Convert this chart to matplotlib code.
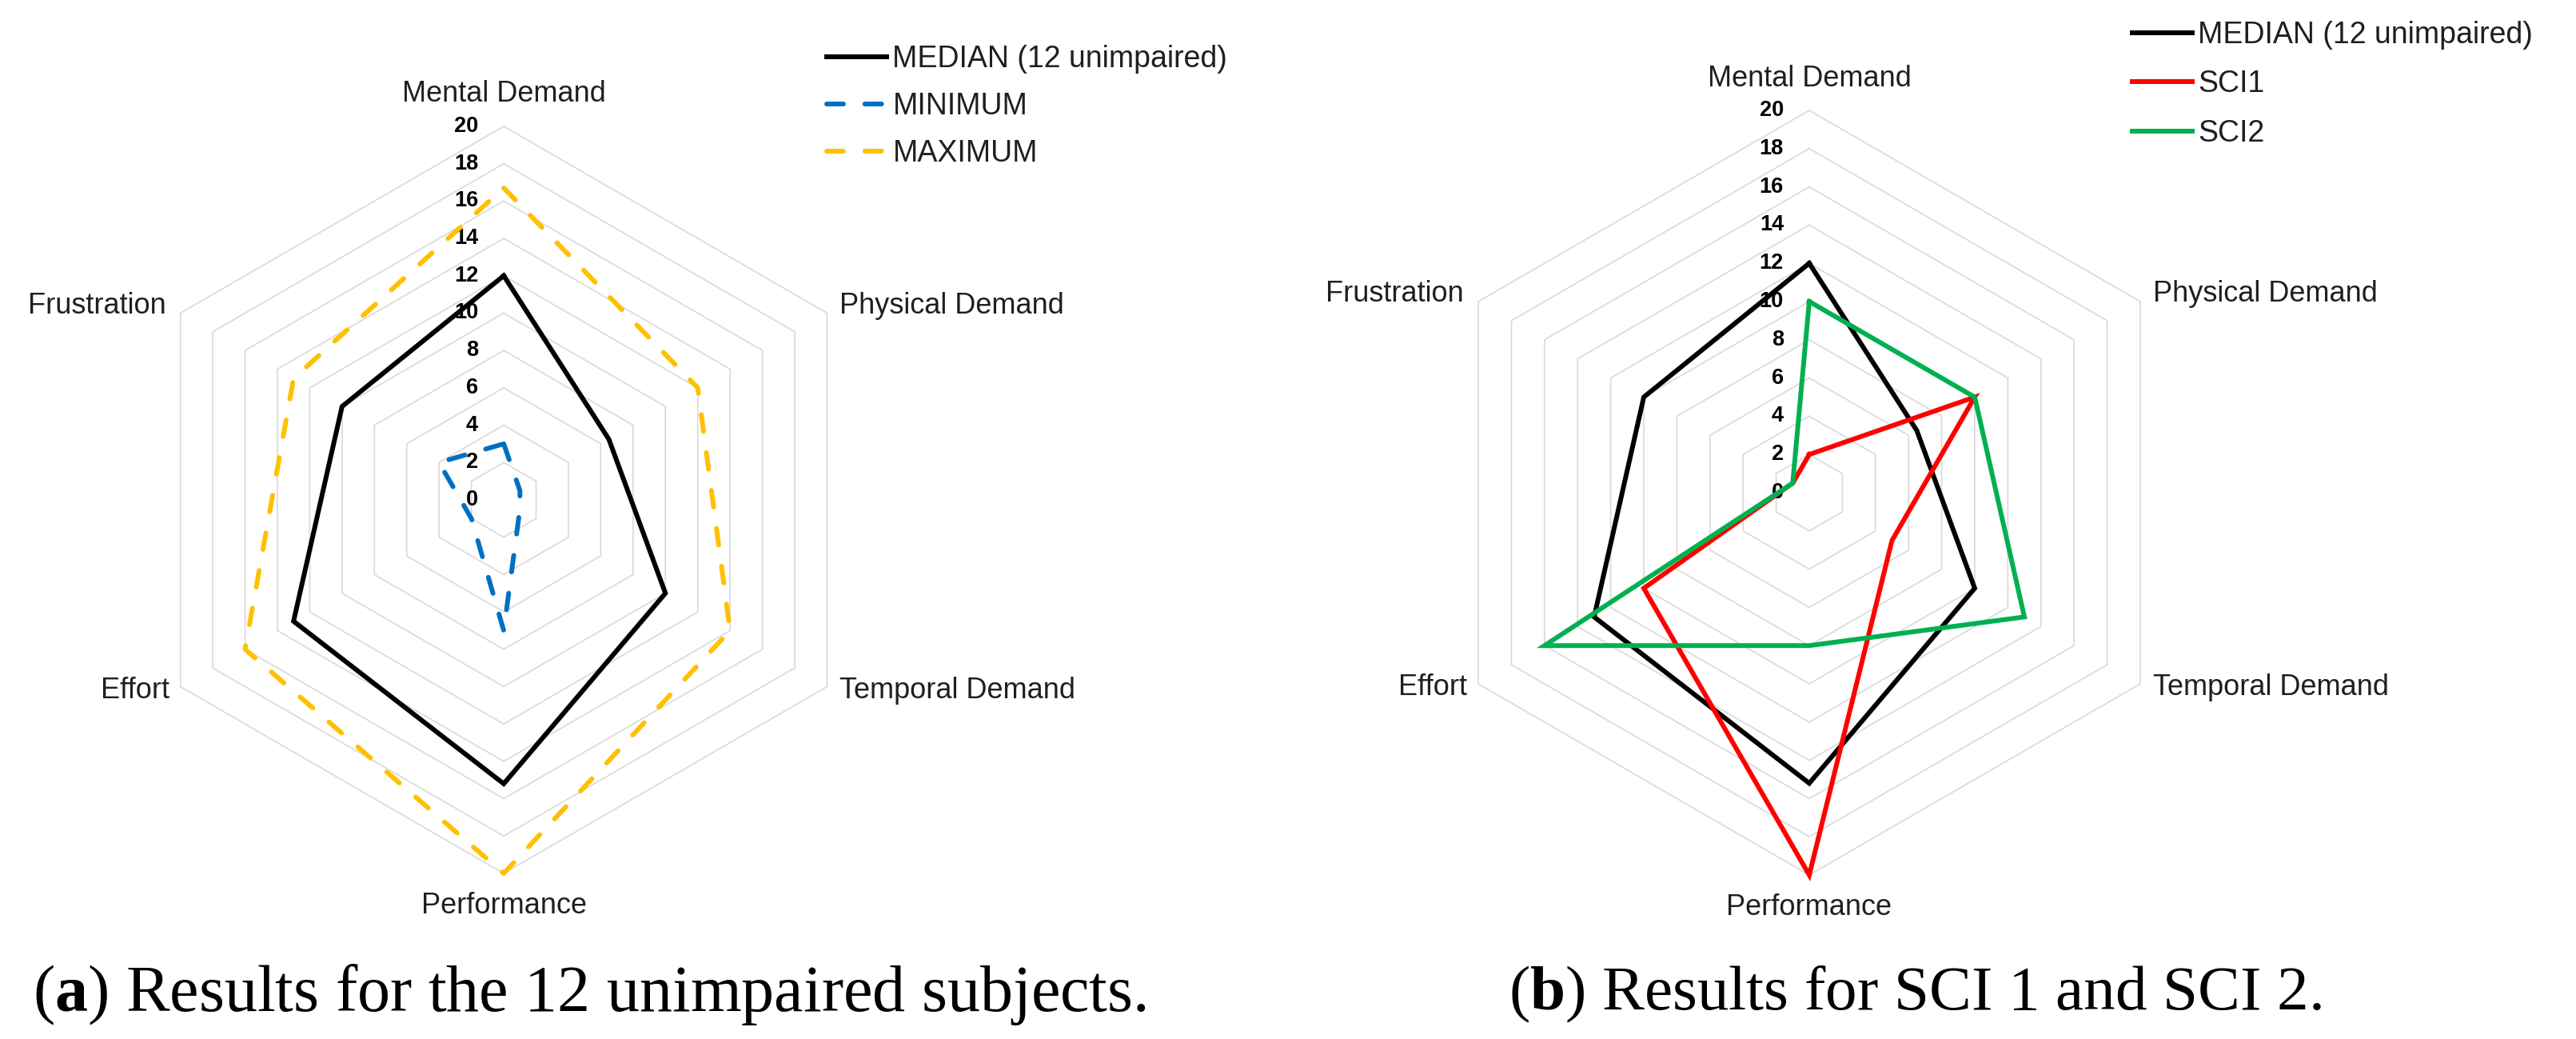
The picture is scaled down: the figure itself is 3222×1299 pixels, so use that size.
"""
NASA-TLX radar charts: unimpaired subjects vs SCI subjects
"""
import numpy as np
import matplotlib.pyplot as plt

plt.rcParams['font.family'] = ['Liberation Sans', 'DejaVu Sans']
plt.rcParams['mathtext.fontset'] = 'custom'
plt.rcParams['mathtext.rm'] = 'Liberation Serif'
plt.rcParams['mathtext.bf'] = 'Liberation Serif:bold'

# data
categories = ['Mental Demand', 'Physical Demand', 'Temporal Demand',
              'Performance', 'Effort', 'Frustration']
median = [12, 6.5, 10, 15.2, 13, 10]
minimum = [3, 1, 1, 7, 2, 4]
maximum = [16.7, 12, 14, 20, 16, 13]
sci1 = [2, 10, 5, 20, 10, 1]
sci2 = [10, 10, 13, 8, 16, 1]
ticks = list(range(0, 21, 2))
captions = [r'($\mathbf{a}$) Results for the 12 unimpaired subjects.',
            r'($\mathbf{b}$) Results for SCI 1 and SCI 2.']

angles = np.deg2rad(np.arange(len(categories)) * 360 / len(categories))

# label offsets in pixels from the outer vertex, (dx, dy, ha)
label_pos = [(0, 40, 'center'), (16, 9, 'left'), (16, -5, 'left'),
             (0, -41, 'center'), (-14, -5, 'right'), (-18, 9, 'right')]

GRID = '#d9d9d9'
TXT = '#1f1f1f'
LW = 4.3


def closed(vals):
    vals = list(vals)
    return np.append(angles, angles[0]), vals + vals[:1]


def setup_radar(ax):
    ax.set_theta_zero_location('N')
    ax.set_theta_direction(-1)
    ax.set_ylim(0, 20)
    ax.grid(False)
    ax.set_xticks([])
    ax.set_yticks([])
    ax.spines['polar'].set_visible(False)
    ax.patch.set_alpha(0)

    # hexagonal grid
    for t in ticks[1:]:
        th, rr = closed([t] * len(categories))
        ax.plot(th, rr, color=GRID, lw=1.2, zorder=1, clip_on=False)

    # radial tick labels
    for t in ticks:
        ax.annotate(str(t), xy=(0, t), xytext=(-32, 0),
                    textcoords='offset pixels', ha='right', va='center',
                    fontsize=19.5, fontweight='bold', color='black',
                    zorder=2, annotation_clip=False)

    # category labels
    for ang, name, (dx, dy, ha) in zip(angles, categories, label_pos):
        ax.annotate(name, xy=(ang, 20), xytext=(dx, dy),
                    textcoords='offset pixels', ha=ha, va='center',
                    fontsize=26, color=TXT, annotation_clip=False)


def series(ax, vals, color, label, dashed=False):
    th, rr = closed(vals)
    kw = dict(color=color, lw=LW, label=label, zorder=3, clip_on=False,
              solid_joinstyle='miter')
    if dashed:
        kw.update(dashes=(3.5, 4.5), dash_capstyle='round')
    return ax.plot(th, rr, **kw)[0]


fig = plt.figure(figsize=(32.22, 12.99), dpi=100)

# (a) unimpaired subjects
ax1 = fig.add_axes([0.0506, 0.1594, 0.2899, 0.719], projection='polar')
setup_radar(ax1)
h1 = [series(ax1, median, 'black', 'MEDIAN (12 unimpaired)'),
      series(ax1, minimum, '#0070c0', 'MINIMUM', dashed=True),
      series(ax1, maximum, '#ffc000', 'MAXIMUM', dashed=True)]
fig.legend(handles=h1, loc='upper left', bbox_to_anchor=(0.3209, 0.957),
           frameon=False, fontsize=27, handlelength=2.0, handletextpad=0.2,
           labelspacing=0.62, borderpad=0, borderaxespad=0,
           labelcolor=TXT)

# (b) SCI subjects
ax2 = fig.add_axes([0.554, 0.1578, 0.2967, 0.736], projection='polar')
setup_radar(ax2)
h2 = [series(ax2, median, 'black', 'MEDIAN (12 unimpaired)'),
      series(ax2, sci1, '#ff0000', 'SCI1'),
      series(ax2, sci2, '#00b050', 'SCI2')]
fig.legend(handles=h2, loc='upper left', bbox_to_anchor=(0.8277, 0.98),
           frameon=False, fontsize=27, handlelength=2.0, handletextpad=0.2,
           labelspacing=0.68, borderpad=0, borderaxespad=0,
           labelcolor=TXT)

# captions
fig.text(737 / 3222, 1 - 1243 / 1299, captions[0], ha='center',
         va='center', fontsize=59, family='Liberation Serif')
fig.text(2395 / 3222, 1 - 1243 / 1299, captions[1], ha='center',
         va='center', fontsize=57, family='Liberation Serif')

fig.savefig('out.png', dpi=100, facecolor='white')
